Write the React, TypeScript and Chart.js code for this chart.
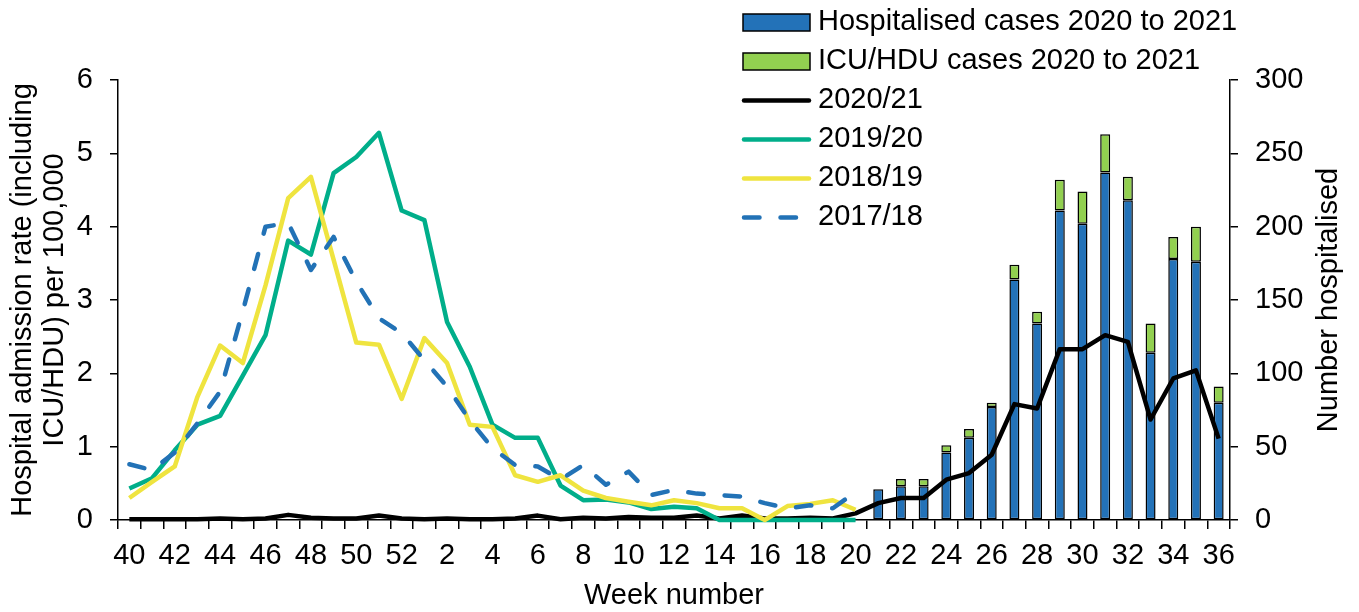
import React, { useEffect, useRef } from 'react';
import { Chart, registerables } from 'chart.js';

Chart.register(...registerables);

const FONT = '"Liberation Sans", Arial, sans-serif';

// Week categories (season runs from week 40 to week 36 of the following year)
const weeks = [
  '40', '41', '42', '43', '44', '45', '46', '47', '48', '49', '50', '51', '52',
  '1', '2', '3', '4', '5', '6', '7', '8', '9', '10', '11', '12', '13', '14', '15',
  '16', '17', '18', '19', '20', '21', '22', '23', '24', '25', '26', '27', '28',
  '29', '30', '31', '32', '33', '34', '35', '36',
];

const rightAxisTitle = 'Number hospitalised';

// Number hospitalised (right axis), weeks 21-36 of 2021
const hospitalised = [
  null, null, null, null, null, null, null, null, null, null, null, null, null,
  null, null, null, null, null, null, null, null, null, null, null, null, null,
  null, null, null, null, null, null, null,
  21, 23, 23, 46, 56, 77, 164, 134, 211, 202, 237, 218, 114, 178, 176, 80,
];
const icuHdu = [
  null, null, null, null, null, null, null, null, null, null, null, null, null,
  null, null, null, null, null, null, null, null, null, null, null, null, null,
  null, null, null, null, null, null, null,
  0, 5, 5, 5, 6, 3, 10, 8, 21, 22, 26, 16, 20, 15, 24, 11,
];

// Hospital admission rates per 100,000 (left axis)
const rate2020 = [
  0.01, 0.01, 0.01, 0.01, 0.02, 0.01, 0.02, 0.07, 0.03, 0.02, 0.02, 0.06, 0.02,
  0.01, 0.02, 0.01, 0.01, 0.02, 0.06, 0.01, 0.03, 0.02, 0.04, 0.03, 0.03, 0.06,
  0.02, 0.06, 0.02, 0.02, 0.03, 0.02, 0.09,
  0.23, 0.3, 0.3, 0.55, 0.64, 0.89, 1.58, 1.52, 2.33, 2.33, 2.52, 2.43, 1.37, 1.93, 2.04, 1.11,
];
const rate2019 = [
  0.43, 0.57, 0.95, 1.3, 1.42, 1.97, 2.52, 3.81, 3.62, 4.73, 4.95, 5.28, 4.22,
  4.09, 2.7, 2.09, 1.3, 1.12, 1.12, 0.47, 0.27, 0.28, 0.24, 0.15, 0.18, 0.16,
  0, 0, 0, 0, 0, 0, 0,
  null, null, null, null, null, null, null, null, null, null, null, null, null, null, null, null,
];
const rate2018 = [
  0.3, 0.52, 0.73, 1.68, 2.38, 2.14, 3.2, 4.39, 4.68, 3.55, 2.42, 2.39, 1.65,
  2.48, 2.14, 1.3, 1.27, 0.61, 0.52, 0.61, 0.4, 0.3, 0.25, 0.2, 0.27, 0.23,
  0.16, 0.16, 0, 0.19, 0.22, 0.27, 0.14,
  null, null, null, null, null, null, null, null, null, null, null, null, null, null, null, null,
];
const rate2017 = [
  0.76, 0.68, 0.92, 1.32, 1.75, 2.85, 4.0, 4.05, 3.41, 3.86, 3.25, 2.75, 2.55,
  2.18, 1.82, 1.36, 0.98, 0.75, 0.73, 0.55, 0.75, 0.48, 0.66, 0.34, 0.41, 0.36,
  0.34, 0.32, 0.23, 0.16, 0.2, 0.16, 0.38,
  null, null, null, null, null, null, null, null, null, null, null, null, null, null, null, null,
];

const legendPlugin = {
  id: 'customLegend',
  afterDraw(chart: any) {
    const ctx = chart.ctx;
    const ds = chart.data.datasets;
    ctx.save();
    const x0 = 743;
    const x1 = 810;
    const y0 = 22.5;
    const dy = 39;
    ds.forEach((d: any, i: number) => {
      const y = y0 + i * dy;
      if (d.type === 'bar') {
        ctx.fillStyle = d.backgroundColor;
        ctx.fillRect(x0, y - 8.5, x1 - x0, 17);
        ctx.strokeStyle = '#000';
        ctx.lineWidth = 1.5;
        ctx.strokeRect(x0, y - 8.5, x1 - x0, 17);
      } else {
        ctx.beginPath();
        ctx.strokeStyle = d.borderColor;
        ctx.lineWidth = d.borderWidth;
        ctx.lineCap = 'round';
        ctx.setLineDash(d.borderDash || []);
        ctx.moveTo(x0 + 1, y);
        ctx.lineTo(x1 - 1, y);
        ctx.stroke();
        ctx.setLineDash([]);
      }
      ctx.fillStyle = '#000';
      ctx.font = `29px ${FONT}`;
      ctx.textBaseline = 'middle';
      ctx.textAlign = 'left';
      ctx.fillText(d.label, 818, y - 0.5);
    });

    // Right axis title, reading bottom-to-top like the left one
    const area = chart.chartArea;
    ctx.translate(1329, (area.top + area.bottom) / 2);
    ctx.rotate(-Math.PI / 2);
    ctx.fillStyle = '#000';
    ctx.font = `29px ${FONT}`;
    ctx.textAlign = 'center';
    ctx.textBaseline = 'middle';
    ctx.fillText(rightAxisTitle, 0, 0);
    ctx.restore();
  },
};

export default function App() {
  const canvasRef = useRef<HTMLCanvasElement | null>(null);

  useEffect(() => {
    if (!canvasRef.current) return;
    const tickFont = { family: FONT, size: 29, lineHeight: 1.2 };
    const titleFont = { family: FONT, size: 29, lineHeight: 1.1 };
    const lineCommon = {
      type: 'line' as const,
      yAxisID: 'y',
      pointRadius: 0,
      borderWidth: 4.5,
      fill: false,
      tension: 0,
      borderJoinStyle: 'round' as const,
      spanGaps: false,
      clip: false,
    };
    const chart = new Chart(canvasRef.current, {
      type: 'bar',
      data: {
        labels: weeks,
        datasets: [
          {
            type: 'bar',
            label: 'Hospitalised cases 2020 to 2021',
            data: hospitalised,
            yAxisID: 'y1',
            stack: 'cases',
            backgroundColor: '#2372B8',
            borderColor: '#000',
            borderWidth: 1.5,
            borderSkipped: false,
            barPercentage: 0.44,
            categoryPercentage: 1,
            order: 10,
          },
          {
            type: 'bar',
            label: 'ICU/HDU cases 2020 to 2021',
            data: icuHdu,
            yAxisID: 'y1',
            stack: 'cases',
            backgroundColor: '#92D050',
            borderColor: '#000',
            borderWidth: 1.5,
            borderSkipped: false,
            barPercentage: 0.44,
            categoryPercentage: 1,
            order: 10,
          },
          { ...lineCommon, label: '2020/21', data: rate2020, borderColor: '#000000', order: 4 },
          { ...lineCommon, label: '2019/20', data: rate2019, borderColor: '#00AE8A', order: 3 },
          { ...lineCommon, label: '2018/19', data: rate2018, borderColor: '#EFE43F', order: 2 },
          {
            ...lineCommon,
            label: '2017/18',
            data: rate2017,
            borderColor: '#2272B6',
            borderDash: [15.5, 21],
            borderCapStyle: 'round',
            order: 1,
          },
        ] as any,
      },
      options: {
        animation: false,
        responsive: true,
        maintainAspectRatio: false,
        layout: { padding: { top: 80, left: 0, right: 0, bottom: 0 } },
        plugins: { legend: { display: false }, tooltip: { enabled: false } },
        scales: {
          x: {
            stacked: true,
            offset: true,
            grid: {
              display: true,
              offset: true,
              drawOnChartArea: false,
              drawTicks: true,
              tickLength: 9,
              color: '#000',
              lineWidth: 1.5,
            },
            border: { display: true, color: '#000', width: 1.5 },
            ticks: {
              autoSkip: false,
              maxRotation: 0,
              minRotation: 0,
              color: '#000',
              font: tickFont,
              padding: 10,
              callback: (_v: any, i: number) => (i % 2 === 0 ? weeks[i] : ''),
            },
            title: {
              display: true,
              text: 'Week number',
              color: '#000',
              font: titleFont,
              padding: { top: 0, bottom: 0 },
            },
            afterFit: (s: any) => {
              s.height = 92;
            },
          },
          y: {
            position: 'left',
            min: 0,
            max: 6,
            grid: {
              display: true,
              drawOnChartArea: false,
              drawTicks: true,
              tickLength: 8,
              color: '#000',
              lineWidth: 1.5,
            },
            border: { display: true, color: '#000', width: 1.5 },
            ticks: { stepSize: 1, color: '#000', font: tickFont, padding: 17 },
            title: {
              display: true,
              text: ['Hospital admission rate (including', 'ICU/HDU) per 100,000'],
              color: '#000',
              font: titleFont,
              padding: { top: 7, bottom: 0 },
            },
            afterFit: (s: any) => {
              s.width = 118;
            },
          },
          y1: {
            position: 'right',
            stacked: true,
            min: 0,
            max: 300,
            grid: {
              display: true,
              drawOnChartArea: false,
              drawTicks: true,
              tickLength: 8,
              color: '#000',
              lineWidth: 1.5,
            },
            border: { display: true, color: '#000', width: 1.5 },
            ticks: { stepSize: 50, color: '#000', font: tickFont, padding: 17 },
            title: { display: false },
            afterFit: (s: any) => {
              s.width = 129;
            },
          },
        },
      } as any,
      plugins: [legendPlugin],
    });
    return () => chart.destroy();
  }, []);

  return (
    <div style={{ position: 'fixed', left: 0, top: 0, width: 1359, height: 612 }}>
      <canvas ref={canvasRef} />
    </div>
  );
}
